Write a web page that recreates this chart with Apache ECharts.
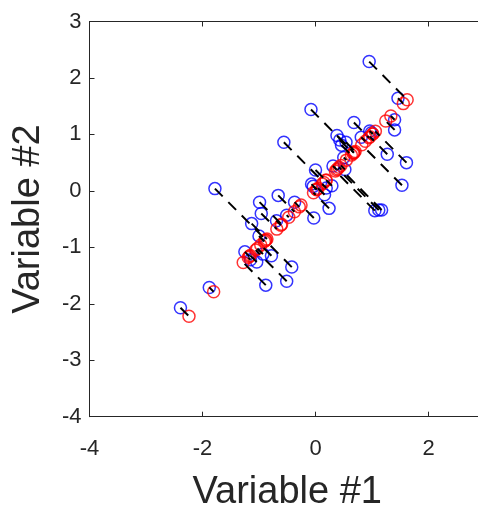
<!DOCTYPE html>
<html>
<head>
<meta charset="utf-8">
<script src="https://cdn.jsdelivr.net/npm/echarts@6/dist/echarts.min.js"></script>
<style>
  html, body { margin: 0; padding: 0; background: #fff; }
  #chart { width: 478px; height: 506px; }
</style>
</head>
<body>
<div id="chart"></div>
<script>
// Observations: Variable #1 and Variable #2
const var1 = [0.95, 1.46, -0.08, 0.68, 1.40, 1.40, 0.38, 0.96, 0.81, 0.54,
              0.46, 1.27, 1.61, 0.50, 0.00, 0.31, 0.52, 1.53, -0.07, 0.29,
              0.16, 0.24, -0.03, 1.05, 1.12, 1.17, -1.78, -0.66, -0.99, -0.37,
              -0.96, -0.51, -0.69, -1.13, -1.00, -0.78, -1.25, -1.04, -0.42, -0.88,
              -0.51, -1.88, -2.39, -0.56, 0.99, -0.04, -1.15, -0.93, 0.43, 0.19];
const var2 = [2.29, 1.64, 1.44, 1.21, 1.26, 1.08, 0.98, 1.06, 0.95, 0.86,
              0.81, 0.65, 0.50, 0.59, 0.37, 0.44, 0.38, 0.10, 0.12, 0.09,
              -0.07, -0.31, -0.48, -0.35, -0.34, -0.34, 0.04, -0.08, -0.20, -0.20,
              -0.40, -0.43, -0.53, -0.58, -0.80, -1.15, -1.08, -1.26, -1.35, -1.67,
              -1.60, -1.71, -2.07, 0.86, 1.03, 0.08, -1.22, -1.12, 0.90, 0.05];

const xTicks = [-4, -2, 0, 2];
const yTicks = [-4, -3, -2, -1, 0, 1, 2, 3];

// Projection of each observation onto the first principal component
const n = var1.length;
const mx = var1.reduce((a, b) => a + b, 0) / n;
const my = var2.reduce((a, b) => a + b, 0) / n;
let sxx = 0, syy = 0, sxy = 0;
for (let i = 0; i < n; i++) {
  const dx = var1[i] - mx, dy = var2[i] - my;
  sxx += dx * dx; syy += dy * dy; sxy += dx * dy;
}
const theta = 0.5 * Math.atan2(2 * sxy, sxx - syy);
const ux = Math.cos(theta), uy = Math.sin(theta);

const original = [], projected = [], links = [];
for (let i = 0; i < n; i++) {
  const t = (var1[i] - mx) * ux + (var2[i] - my) * uy;
  const p = [mx + t * ux, my + t * uy];
  original.push([var1[i], var2[i]]);
  projected.push(p);
  links.push({ coords: [[var1[i], var2[i]], p] });
}

const ink = '#262626';
const font = 'Liberation Sans, Arial, Helvetica, sans-serif';

const chart = echarts.init(document.getElementById('chart'), null, { renderer: 'canvas' });
chart.setOption({
  animation: false,
  backgroundColor: '#ffffff',
  // square data box, running past the window on the right
  grid: { left: 89.5, top: 21.5, right: -7, bottom: 89.3,
          containLabel: false, outerBoundsMode: 'none' },
  xAxis: [{
    type: 'value', min: -4, max: 3, interval: 2, position: 'bottom',
    name: 'Variable #1', nameLocation: 'middle', nameGap: 57,
    nameTextStyle: { fontSize: 38, color: ink, fontFamily: font },
    axisLine: { show: true, onZero: false, lineStyle: { color: ink, width: 1 } },
    axisTick: { show: true, inside: true, length: 5, lineStyle: { color: ink } },
    axisLabel: { fontSize: 22, color: ink, fontFamily: font, margin: 21,
                 customValues: xTicks },
    splitLine: { show: false }
  }, {
    type: 'value', min: -4, max: 3, interval: 2, position: 'top',
    axisLine: { show: true, onZero: false, lineStyle: { color: ink, width: 1 } },
    axisTick: { show: true, inside: true, length: 5, lineStyle: { color: ink } },
    axisLabel: { show: false },
    splitLine: { show: false }
  }],
  yAxis: [{
    type: 'value', min: -4, max: 3, interval: 1, position: 'left',
    name: 'Variable #2', nameLocation: 'middle', nameGap: 42, nameRotate: 90,
    nameTextStyle: { fontSize: 38, color: ink, fontFamily: font },
    axisLine: { show: true, onZero: false, lineStyle: { color: ink, width: 1 } },
    axisTick: { show: true, inside: true, length: 5, lineStyle: { color: ink } },
    axisLabel: { fontSize: 22, color: ink, fontFamily: font, margin: 8,
                 customValues: yTicks },
    splitLine: { show: false }
  }],
  series: [{
    type: 'scatter',
    data: original,
    symbol: 'circle',
    symbolSize: 12,
    itemStyle: { color: 'rgba(0,0,0,0)', borderColor: '#0000ff', borderWidth: 1.5 },
    z: 2
  }, {
    type: 'scatter',
    data: projected,
    symbol: 'circle',
    symbolSize: 12,
    itemStyle: { color: 'rgba(0,0,0,0)', borderColor: '#ff0000', borderWidth: 1.5 },
    z: 3
  }, {
    type: 'lines',
    coordinateSystem: 'cartesian2d',
    data: links,
    lineStyle: { color: '#000000', width: 2, type: [11, 8], opacity: 1 },
    z: 4
  }]
});
</script>
</body>
</html>
